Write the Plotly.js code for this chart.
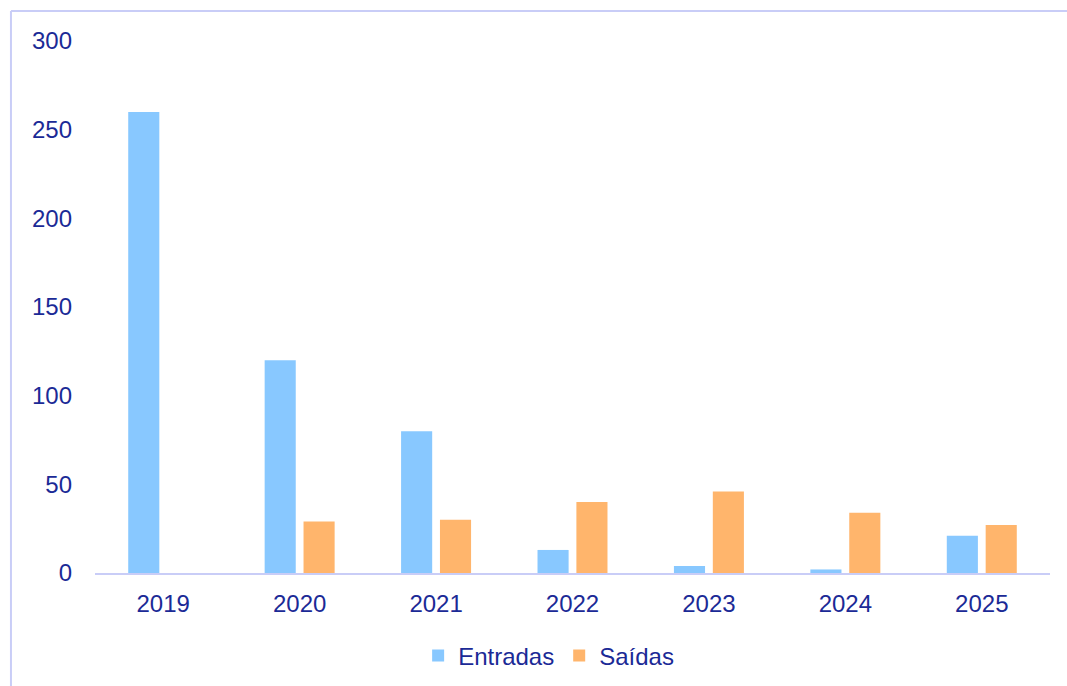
<!DOCTYPE html>
<html>
<head>
<meta charset="utf-8">
<script src="https://cdn.plot.ly/plotly-3.0.1.min.js"></script>
<style>html,body{margin:0;padding:0;background:#fff;}#chart{width:1067px;height:686px;}</style>
</head>
<body>
<div id="chart"></div>
<script>
const years = ["2019", "2020", "2021", "2022", "2023", "2024", "2025"];
const entradas = [260, 120, 80, 13, 4, 2, 21];
const saidas = [0, 29, 30, 40, 46, 34, 27];
const seriesNames = ["Entradas", "Saídas"];
const yTicks = [0, 50, 100, 150, 200, 250, 300];

const textColor = "#1b2a96";
const frameColor = "#c9cdf7";
const fontFam = "Liberation Sans, Arial, sans-serif";

const traces = [
  {type: "bar", x: years, y: entradas, name: seriesNames[0], marker: {color: "#88C8FF"}, hoverinfo: "x+y"},
  {type: "bar", x: years, y: saidas, name: seriesNames[1], marker: {color: "#FFB56C"}, hoverinfo: "x+y"}
];

const layout = {
  width: 1067, height: 686,
  margin: {l: 95, r: 17, t: 41, b: 113, autoexpand: false},
  paper_bgcolor: "#fff", plot_bgcolor: "#fff",
  font: {family: fontFam, size: 24, color: textColor},
  barmode: "group", bargap: 0.43, bargroupgap: 0.2,
  showlegend: true,
  legend: {orientation: "h", x: 0.475, xanchor: "center", y: -0.156, yanchor: "middle",
           font: {family: fontFam, size: 24, color: textColor}, itemwidth: 30, tracegroupgap: 0},
  xaxis: {type: "category", automargin: false, showgrid: false, zeroline: false, showline: true,
          linecolor: frameColor, linewidth: 2, ticks: "", ticklabelstandoff: 8,
          tickfont: {family: fontFam, size: 24, color: textColor}},
  yaxis: {range: [0, 300], automargin: false, tickvals: yTicks, showgrid: false, zeroline: false, showline: false,
          ticks: "", ticklabelstandoff: 22, tickfont: {family: fontFam, size: 24, color: textColor}},
  shapes: [
    {type: "line", xref: "paper", yref: "paper", x0: -0.088, x1: -0.088, y0: 1.0564, y1: -0.3, line: {color: frameColor, width: 2}},
    {type: "line", xref: "paper", yref: "paper", x0: -0.088, x1: 1.02, y0: 1.0564, y1: 1.0564, line: {color: frameColor, width: 2}}
  ]
};

Plotly.newPlot("chart", traces, layout, {displayModeBar: false, staticPlot: true});
</script>
</body>
</html>
